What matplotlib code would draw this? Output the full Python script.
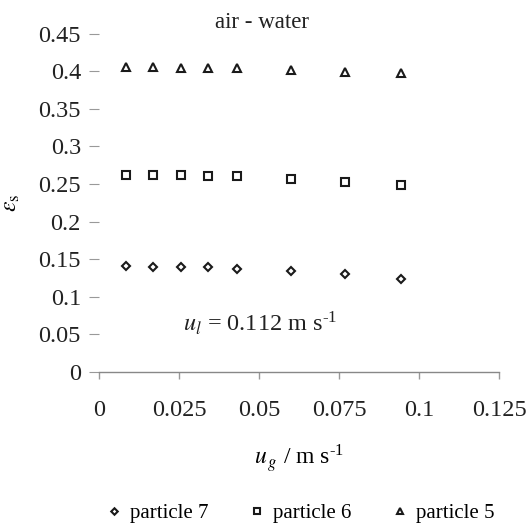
import numpy as np
import matplotlib.pyplot as plt

plt.rcParams['font.family'] = 'Liberation Serif'
plt.rcParams['mathtext.fontset'] = 'stix'

# superficial gas velocity, m/s
ug = [0.0085, 0.017, 0.0255, 0.034, 0.043, 0.060, 0.077, 0.0945]

# solid holdup for each particle type
eps_p7 = [0.141, 0.139, 0.139, 0.139, 0.137, 0.134, 0.130, 0.124]
eps_p6 = [0.262, 0.262, 0.262, 0.260, 0.260, 0.257, 0.253, 0.248]
eps_p5 = [0.406, 0.406, 0.404, 0.404, 0.404, 0.401, 0.399, 0.397]

labels = ['particle 7', 'particle 6', 'particle 5']
markers = ['D', 's', '^']

xticks = [0, 0.025, 0.05, 0.075, 0.1, 0.125]
xticklabels = ['0', '0.025', '0.05', '0.075', '0.1', '0.125']
yticks = np.arange(0, 0.451, 0.05)
yticklabels = ['0', '0.05', '0.1', '0.15', '0.2', '0.25', '0.3', '0.35', '0.4', '0.45']

HYPH = '\u2010'  # printed hyphen in the unit exponent

fig = plt.figure(figsize=(5.27, 5.24), dpi=100)
ax = fig.add_axes([0.1879, 0.2901, 0.759, 0.6458])

sizes = [4.4, 5.2, 5.6]
for ys, lab, m, ms in zip([eps_p7, eps_p6, eps_p5], labels, markers, sizes):
    ax.plot(ug, ys, linestyle='none', marker=m, markersize=ms,
            markerfacecolor='white', markeredgecolor='#1a1a1a',
            markeredgewidth=1.5, label=lab)

ax.set_xlim(0, 0.125)
ax.set_ylim(0, 0.45)
ax.set_xticks(xticks)
ax.set_xticklabels(xticklabels, fontsize=17.5)
ax.set_yticks(yticks)
ax.set_yticklabels(yticklabels, fontsize=17.5)

for s in ['top', 'right', 'left']:
    ax.spines[s].set_visible(False)
ax.spines['bottom'].set_color('#888888')
ax.spines['bottom'].set_linewidth(1.0)
ax.tick_params(axis='x', direction='out', length=5, width=1.0,
               color='#999999', pad=15, labelcolor='#222222')
ax.tick_params(axis='y', direction='out', length=7, width=0.8,
               color='#999999', pad=6, labelcolor='#222222')

ax.set_ylabel(r'$\varepsilon_{\mathrm{s}}$', fontsize=17, labelpad=12)
ax.set_xlabel(r'$u_{\,g}$ / m s$^{\mathregular{' + HYPH + '1}}$',
              fontsize=17, labelpad=16)

ax.text(0.0502, 0.065, r'$u_l$ = 0.112 m s$^{\mathregular{' + HYPH + '1}}$',
        fontsize=17.5, ha='center', va='center', color='#222222')
fig.text(262 / 527, 1 - 23 / 524, 'air - water', fontsize=16.5,
         ha='center', va='center', color='#222222')

fig.legend(loc='center', bbox_to_anchor=(299 / 527, 1 - 513 / 524), ncol=3,
           frameon=False, fontsize=15, handletextpad=0.3, columnspacing=1.8,
           handlelength=1.0, markerscale=0.75)

fig.savefig('out.png', dpi=100)
